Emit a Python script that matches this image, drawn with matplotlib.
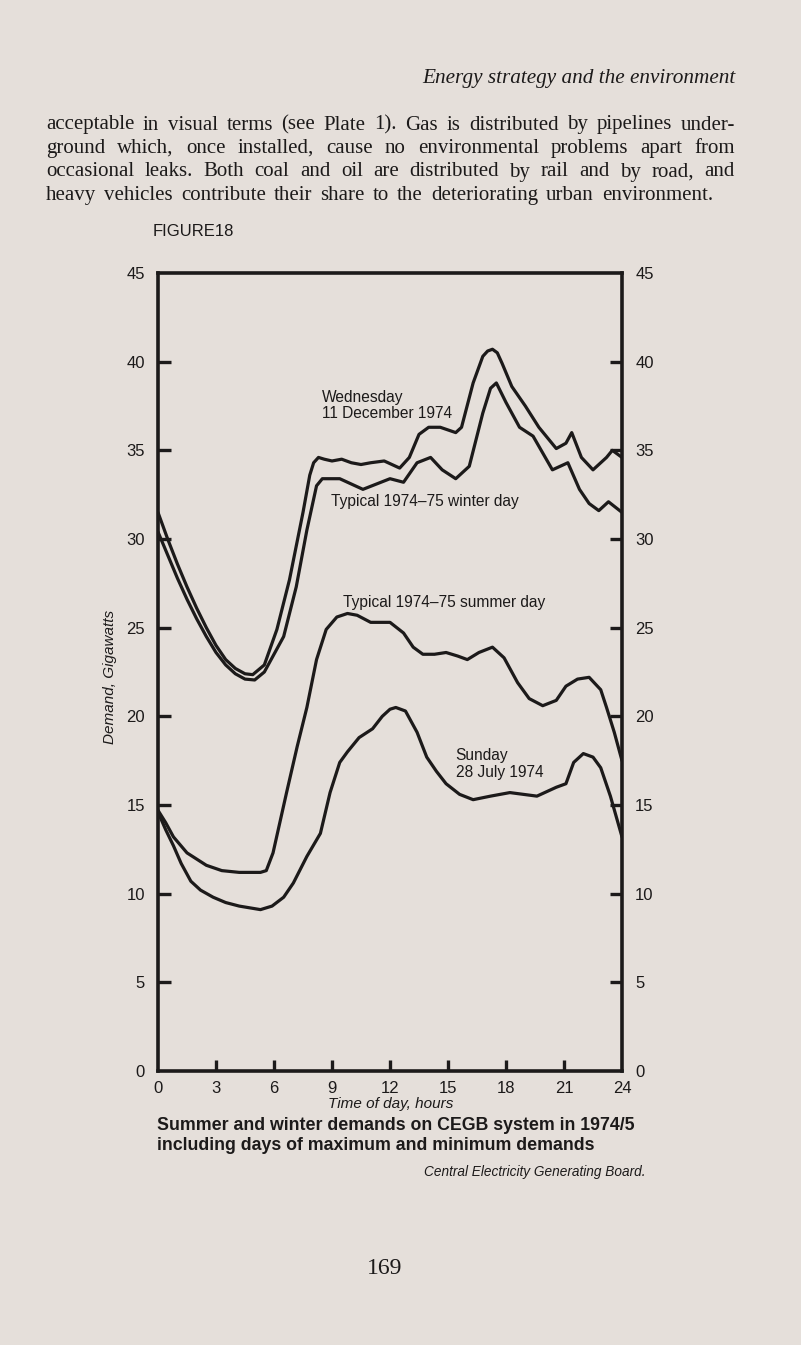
import matplotlib
matplotlib.use("Agg")
import matplotlib.pyplot as plt

# page size in pixels
W, H = 801, 1345
BG = "#e5dfda"
INK = "#1c1a1a"

# ---- data (hours, gigawatts) ----
wed_h = [0, 0.5, 1, 1.5, 2, 2.5, 3, 3.5, 4, 4.5, 4.9, 5.5, 6.15, 6.8, 7.5, 7.85, 8.05, 8.3,
         8.6, 9.0, 9.5, 10.0, 10.5, 11.0, 11.7, 12.5, 13.0, 13.5, 14.0, 14.6, 15.4, 15.7,
         16.3, 16.8, 17.05, 17.3, 17.55, 17.8, 18.3, 19.0, 19.7, 20.6, 21.1, 21.4, 21.9,
         22.5, 23.2, 23.5, 24]
wed_gw = [31.5, 30.0, 28.6, 27.3, 26.1, 25.0, 24.0, 23.2, 22.7, 22.4, 22.35, 22.9, 24.9, 27.7,
          31.5, 33.6, 34.3, 34.6, 34.5, 34.4, 34.5, 34.3, 34.2, 34.3, 34.4, 34.0, 34.6, 35.9,
          36.3, 36.3, 36.0, 36.3, 38.8, 40.3, 40.6, 40.7, 40.5, 39.9, 38.6, 37.5, 36.3, 35.1,
          35.4, 36.0, 34.6, 33.9, 34.6, 35.0, 34.6]

win_h = [0, 0.5, 1, 1.5, 2, 2.5, 3, 3.5, 4, 4.5, 5.0, 5.5, 6.5, 7.15, 7.7, 8.2, 8.5, 9.4,
         10.0, 10.6, 11.3, 12.0, 12.7, 13.4, 14.1, 14.7, 15.4, 16.1, 16.8, 17.2, 17.5, 18.0,
         18.7, 19.4, 20.4, 21.2, 21.8, 22.3, 22.8, 23.3, 24]
win_gw = [30.4, 29.1, 27.8, 26.6, 25.5, 24.5, 23.6, 22.9, 22.4, 22.1, 22.05, 22.5, 24.5, 27.3,
          30.5, 33.0, 33.4, 33.4, 33.1, 32.8, 33.1, 33.4, 33.2, 34.3, 34.6, 33.9, 33.4,
          34.1, 37.1, 38.5, 38.8, 37.7, 36.3, 35.8, 33.9, 34.3, 32.8, 32.0, 31.6, 32.1, 31.5]

sum_h = [0, 0.4, 0.8, 1.5, 2.5, 3.3, 4.2, 5.3, 5.6, 5.95, 6.65, 7.2, 7.7, 8.2, 8.7, 9.25, 9.8,
         10.3, 11.0, 12.0, 12.7, 13.2, 13.7, 14.3, 14.9, 15.5, 16.0, 16.6, 17.3, 17.9, 18.6,
         19.2, 19.9, 20.6, 21.1, 21.7, 22.3, 22.9, 23.2, 23.6, 24]
sum_gw = [14.7, 14.0, 13.2, 12.3, 11.6, 11.3, 11.2, 11.2, 11.3, 12.3, 15.7, 18.3, 20.5, 23.2,
          24.9, 25.6, 25.8, 25.7, 25.3, 25.3, 24.7, 23.9, 23.5, 23.5, 23.6, 23.4, 23.2, 23.6,
          23.9, 23.3, 21.9, 21.0, 20.6, 20.9, 21.7, 22.1, 22.2, 21.5, 20.5, 19.1, 17.5]

sun_h = [0, 0.4, 0.8, 1.2, 1.7, 2.2, 2.85, 3.5, 4.2, 5.3, 5.9, 6.5, 7.0, 7.7, 8.4, 8.9, 9.4,
         9.8, 10.4, 11.1, 11.6, 12.0, 12.3, 12.8, 13.4, 13.9, 14.4, 14.9, 15.6, 16.3, 17.2,
         18.2, 19.6, 20.6, 21.1, 21.5, 22.0, 22.5, 22.9, 23.4, 24]
sun_gw = [14.6, 13.6, 12.7, 11.7, 10.7, 10.2, 9.8, 9.5, 9.3, 9.1, 9.3, 9.8, 10.6, 12.1, 13.4,
          15.7, 17.4, 18.0, 18.8, 19.3, 20.0, 20.4, 20.5, 20.3, 19.1, 17.7, 16.9, 16.2, 15.6,
          15.3, 15.5, 15.7, 15.5, 16.0, 16.2, 17.4, 17.9, 17.7, 17.1, 15.5, 13.2]

x_ticks = [0, 3, 6, 9, 12, 15, 18, 21, 24]
y_ticks = [0, 5, 10, 15, 20, 25, 30, 35, 40, 45]

body_lines = [
    "acceptable in visual terms (see Plate 1). Gas is distributed by pipelines under-",
    "ground which, once installed, cause no environmental problems apart from",
    "occasional leaks. Both coal and oil are distributed by rail and by road, and",
    "heavy vehicles contribute their share to the deteriorating urban environment.",
]


def fx(px):
    return px / W


def fy(py):
    return 1 - py / H


SANS = ["Liberation Sans", "DejaVu Sans"]
SERIF = ["Liberation Serif", "DejaVu Serif"]

fig = plt.figure(figsize=(W / 100, H / 100), dpi=100, facecolor=BG)
ax = fig.add_axes([fx(158), fy(1071), (622 - 158) / W, (1071 - 273) / H])
ax.set_facecolor(BG)

for hh, gw in [(wed_h, wed_gw), (win_h, win_gw), (sum_h, sum_gw), (sun_h, sun_gw)]:
    ax.plot(hh, gw, color=INK, lw=2.3, solid_joinstyle="round", solid_capstyle="round")

ax.set_xlim(0, 24)
ax.set_ylim(0, 45)
ax.set_xticks(x_ticks)
ax.set_yticks(y_ticks)
for s in ax.spines.values():
    s.set_linewidth(2.6)
    s.set_color(INK)
ax.tick_params(axis="y", which="both", direction="in", length=9, width=2.4,
               left=True, right=True, labelleft=True, labelright=True, pad=9.5,
               labelsize=12, colors=INK)
ax.tick_params(axis="x", direction="in", length=8, width=2.4, top=False, pad=7.5,
               labelsize=12, colors=INK)
for lab in ax.get_xticklabels() + ax.get_yticklabels():
    lab.set_family(SANS)
# no ticks at the ends of the axes
for t in ax.yaxis.get_major_ticks():
    if t.get_loc() in (0, 45):
        t.tick1line.set_visible(False)
        t.tick2line.set_visible(False)
for t in ax.xaxis.get_major_ticks():
    if t.get_loc() in (0, 24):
        t.tick1line.set_visible(False)

# curve labels
lab_kw = dict(fontsize=11.2, color=INK, family=SANS, va="center", ha="left")
ax.text(8.5, (1071 - 398) / 17.73, "Wednesday", **lab_kw)
ax.text(8.5, (1071 - 414) / 17.73, "11 December 1974", **lab_kw)
ax.text(8.95, (1071 - 502) / 17.73, "Typical 1974–75 winter day", **lab_kw)
ax.text(9.55, (1071 - 603) / 17.73, "Typical 1974–75 summer day", **lab_kw)
ax.text(15.4, (1071 - 756) / 17.73, "Sunday", **lab_kw)
ax.text(15.4, (1071 - 773) / 17.73, "28 July 1974", **lab_kw)

# axis titles
fig.text(fx(391), fy(1104), "Time of day, hours", fontsize=11, style="italic",
         family=SANS, color=INK, ha="center", va="center")
fig.text(fx(110), fy(677), "Demand, Gigawatts", fontsize=11, style="italic",
         family=SANS, color=INK, ha="center", va="center", rotation=90)

fig.text(fx(153), fy(232), "FIGURE18", fontsize=12, family=SANS, color=INK,
         ha="left", va="center")

# caption under the chart
fig.text(fx(157), fy(1125), "Summer and winter demands on CEGB system in 1974/5",
         fontsize=12.8, weight="bold", family=SANS, color=INK, ha="left", va="center")
fig.text(fx(157), fy(1146), "including days of maximum and minimum demands",
         fontsize=12.8, weight="bold", family=SANS, color=INK, ha="left", va="center")
fig.text(fx(645), fy(1172), "Central Electricity Generating Board.", fontsize=9.8,
         style="italic", family=SANS, color=INK, ha="right", va="center")

# running head, body text and folio
fig.text(fx(735), fy(78), "Energy strategy and the environment", fontsize=15.3,
         style="italic", family=SERIF, color=INK, ha="right", va="center")

L = 46
rights = [735, 735, 735, 713]
renderer = fig.canvas.get_renderer()
for i, line in enumerate(body_lines):
    y = 125 + i * 23.5
    words = line.split()
    txts = [fig.text(0, fy(y), w, fontsize=15, family=SERIF, color=INK,
                     ha="left", va="center") for w in words]
    widths = [t.get_window_extent(renderer).width for t in txts]
    gap = (rights[i] - L - sum(widths)) / (len(words) - 1)
    x = L
    for t, wd in zip(txts, widths):
        t.set_x(fx(x))
        x += wd + gap

fig.text(fx(385), fy(1268), "169", fontsize=17, family=SERIF, color=INK,
         ha="center", va="center")

fig.savefig("out.png", dpi=100, facecolor=BG)
